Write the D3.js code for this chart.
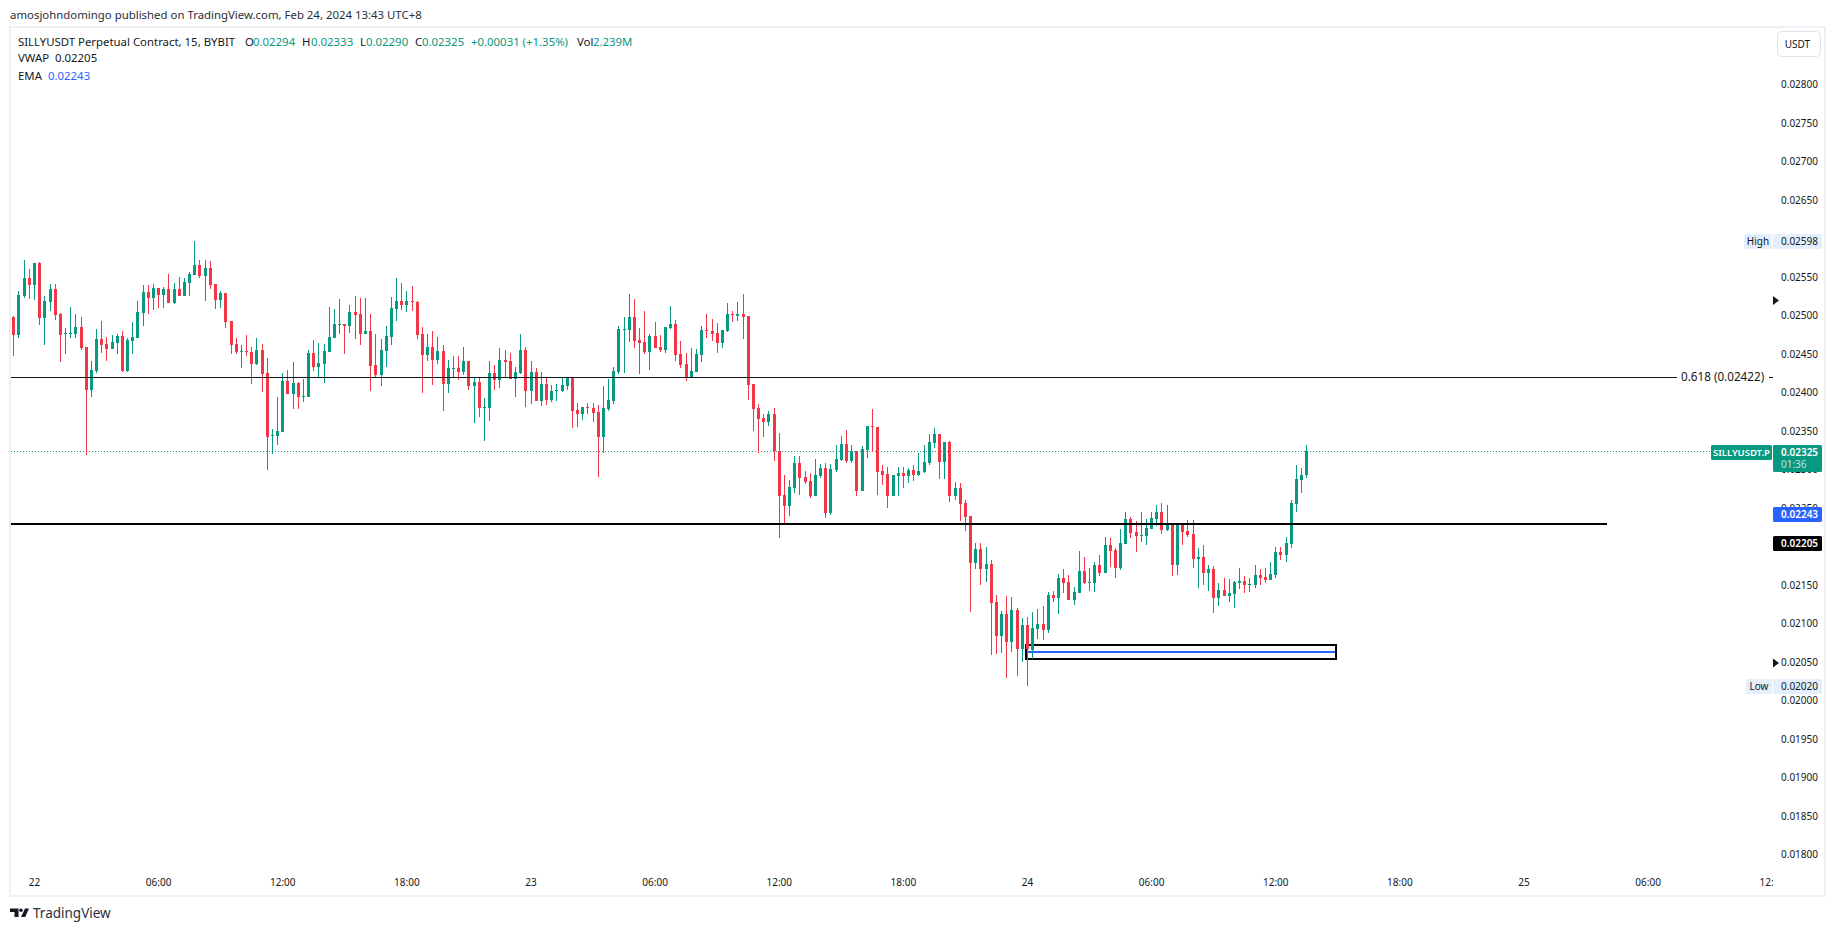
<!DOCTYPE html>
<html><head><meta charset="utf-8">
<script src="https://cdn.jsdelivr.net/npm/d3@7"></script>
<style>
html,body{margin:0;padding:0;background:#fff;overflow:hidden}
svg{display:block}
text{font-family:"Noto Sans",sans-serif;}
</style></head><body>
<script>
// All prices are in points: 1 point = 0.00001 USDT
const opens=[2499,2476,2527,2550,2541,2570,2498,2519,2536,2503,
2477,2477,2477,2487,2461,2405,2429,2471,2464,2458,
2466,2475,2429,2468,2472,2505,2532,2524,2537,2528,
2536,2518,2536,2527,2544,2554,2567,2553,2563,2542,
2522,2531,2494,2464,2454,2455,2454,2438,2457,2427,
2345,2345,2350,2416,2400,2414,2396,2396,2453,2435,
2438,2454,2472,2489,2490,2488,2506,2503,2477,2481,
2437,2424,2455,2473,2510,2520,2515,2520,2519,2477,
2450,2461,2444,2455,2412,2432,2433,2428,2442,2410,
2415,2381,2381,2427,2418,2444,2442,2419,2427,2457,
2403,2428,2390,2412,2392,2403,2403,2410,2420,2379,
2373,2383,2381,2376,2344,2380,2390,2428,2483,2483,
2499,2470,2467,2454,2475,2461,2457,2485,2490,2451,
2438,2422,2428,2450,2483,2481,2479,2466,2481,2503,
2501,2503,2501,2412,2381,2368,2363,2374,2325,2268,
2254,2277,2310,2292,2287,2267,2293,2303,2245,2301,
2314,2335,2312,2325,2274,2327,2358,2357,2300,2296,
2267,2293,2297,2293,2301,2294,2298,2310,2336,2348,
2311,2337,2267,2277,2258,2241,2180,2198,2172,2179,
2129,2085,2114,2077,2119,2068,2100,2067,2094,2101,
2093,2138,2135,2160,2155,2132,2141,2170,2154,2154,
2177,2167,2203,2197,2173,2205,2237,2220,2215,2215,
2224,2237,2246,2223,2229,2177,2229,2222,2218,2185,
2188,2167,2172,2134,2145,2137,2140,2154,2157,2151,
2151,2164,2162,2158,2164,2194,2190,2205,2257,2288,2294];
const closes=[2476,2528,2550,2541,2570,2498,2520,2536,2502,2476,
2479,2479,2487,2459,2405,2431,2471,2463,2458,2467,
2475,2429,2470,2473,2506,2532,2524,2537,2528,2536,
2518,2536,2527,2545,2555,2567,2553,2563,2541,2522,
2531,2493,2463,2454,2455,2454,2438,2457,2426,2344,
2346,2351,2416,2400,2414,2396,2397,2453,2435,2440,
2455,2473,2490,2490,2488,2506,2502,2477,2481,2436,
2424,2457,2475,2511,2520,2515,2520,2519,2476,2450,
2461,2444,2455,2412,2433,2433,2428,2442,2410,2415,
2381,2383,2427,2418,2444,2441,2419,2428,2457,2403,
2428,2390,2412,2392,2403,2405,2411,2420,2377,2373,
2383,2381,2375,2344,2381,2392,2429,2484,2484,2499,
2468,2466,2454,2475,2459,2457,2486,2490,2450,2437,
2422,2429,2451,2483,2481,2477,2466,2483,2503,2502,
2503,2499,2411,2380,2367,2363,2374,2325,2267,2254,
2279,2310,2290,2285,2267,2294,2303,2245,2302,2315,
2335,2312,2325,2274,2328,2358,2357,2298,2294,2267,
2294,2297,2293,2301,2294,2300,2311,2337,2348,2311,
2337,2267,2277,2257,2240,2180,2198,2172,2179,2128,
2085,2114,2077,2119,2068,2100,2068,2096,2101,2093,
2138,2135,2161,2154,2132,2142,2170,2154,2155,2177,
2167,2203,2196,2173,2206,2237,2219,2215,2216,2225,
2238,2246,2223,2229,2177,2229,2220,2216,2185,2188,
2167,2172,2134,2145,2137,2141,2155,2157,2151,2153,
2164,2160,2158,2166,2194,2190,2206,2258,2289,2294,2325];
const highs=[2501,2533,2574,2562,2570,2571,2527,2542,2542,2505,
2485,2512,2503,2499,2461,2442,2484,2494,2473,2476,
2477,2481,2472,2493,2520,2541,2541,2542,2537,2538,
2555,2544,2551,2550,2558,2598,2574,2574,2572,2542,
2533,2531,2494,2472,2463,2476,2461,2472,2464,2446,
2354,2396,2427,2431,2441,2415,2419,2457,2470,2466,
2464,2512,2510,2523,2490,2515,2527,2524,2524,2503,
2477,2471,2488,2525,2550,2544,2533,2540,2520,2486,
2477,2481,2473,2463,2444,2449,2449,2461,2442,2420,
2420,2394,2442,2437,2459,2457,2453,2435,2477,2461,
2442,2433,2428,2420,2411,2412,2420,2420,2420,2388,
2383,2388,2388,2385,2410,2419,2435,2488,2499,2529,
2523,2485,2507,2477,2493,2476,2486,2514,2496,2468,
2453,2459,2458,2488,2503,2497,2492,2483,2518,2507,
2519,2529,2501,2412,2386,2374,2377,2381,2349,2294,
2288,2319,2319,2299,2297,2315,2309,2310,2309,2333,
2345,2353,2333,2325,2332,2358,2380,2357,2307,2305,
2294,2305,2305,2303,2307,2323,2333,2348,2355,2348,
2337,2338,2285,2284,2262,2241,2206,2206,2201,2184,
2138,2118,2137,2136,2122,2109,2110,2116,2120,2124,
2142,2144,2166,2172,2164,2149,2196,2188,2173,2181,
2190,2214,2212,2199,2224,2246,2240,2235,2246,2237,
2246,2255,2258,2255,2231,2231,2232,2236,2236,2199,
2203,2177,2176,2154,2160,2159,2157,2173,2163,2160,
2177,2172,2173,2181,2201,2201,2214,2262,2307,2303,2333];
const lows=[2449,2472,2524,2523,2522,2489,2463,2507,2496,2441,
2451,2472,2472,2457,2320,2396,2427,2453,2442,2458,
2451,2428,2428,2451,2472,2488,2503,2509,2511,2511,
2518,2516,2527,2527,2527,2554,2550,2520,2536,2510,
2511,2485,2451,2451,2433,2449,2413,2437,2402,2301,
2322,2333,2350,2400,2380,2380,2389,2396,2429,2422,
2414,2454,2472,2477,2451,2479,2471,2463,2477,2403,
2422,2410,2435,2463,2494,2509,2506,2507,2471,2401,
2442,2411,2438,2377,2401,2420,2418,2424,2405,2362,
2370,2338,2364,2405,2407,2420,2419,2396,2425,2383,
2386,2390,2384,2385,2389,2390,2402,2405,2355,2357,
2366,2373,2363,2292,2323,2377,2386,2425,2427,2467,
2459,2425,2451,2431,2459,2454,2453,2484,2442,2433,
2416,2422,2428,2441,2472,2468,2453,2459,2480,2493,
2494,2471,2392,2351,2323,2344,2358,2312,2212,2229,
2241,2271,2268,2283,2264,2267,2290,2238,2242,2298,
2312,2310,2310,2267,2274,2316,2324,2268,2281,2251,
2267,2267,2277,2284,2287,2293,2297,2307,2329,2289,
2289,2259,2262,2235,2222,2116,2172,2151,2155,2061,
2062,2063,2031,2064,2033,2051,2020,2055,2081,2080,
2089,2129,2114,2141,2132,2125,2141,2153,2144,2142,
2163,2167,2175,2160,2171,2205,2212,2194,2207,2203,
2224,2228,2218,2222,2163,2164,2203,2214,2173,2147,
2151,2144,2115,2124,2137,2129,2122,2146,2141,2142,
2147,2151,2154,2158,2160,2184,2181,2199,2246,2271,2290];

const priceTicks=[1800,1850,1900,1950,2000,2050,2100,2150,2200,2250,2300,2350,2400,2450,2500,2550,2600,2650,2700,2750,2800];
const timeTickIndex=[4,28,52,76,100,124,148,172,196,220,244,268,292,316,340];
const timeTickLabels=["22","06:00","12:00","18:00","23","06:00","12:00","18:00","24","06:00","12:00","18:00","25","06:00","12:00"];

const fibPrice=2422, fibLabel="0.618 (0.02422)";
const supportPrice=2231;
const lastPrice=2325, emaPrice=2243, vwapPrice=2205, highPrice=2598, lowPrice=2020;
const boxTop=2074, boxBottom=2055, boxMid=2065;
const boxFrom=195.8, boxTo=255.8;
const markerPrices=[2521,2050];

const GREEN="#089981", RED="#f23645", BLUE="#2962ff", INK="#131722", BORDER="#eef0f5";
const W=1835,H=931;
const pane={l:11,t:27,r:1773,b:895};

const x=d3.scaleLinear().domain([0,250]).range([13.3,1306.3]);
const y=d3.scaleLinear().domain([1800,2800]).range([855.6,85.6]);
const fmt=v=>(v/1e5).toFixed(5);
const px=v=>Math.round(v);

const svg=d3.select("body").append("svg").attr("width",W).attr("height",H);
svg.append("rect").attr("width",W).attr("height",H).attr("fill","#fff");

// frame
svg.append("rect").attr("x",10).attr("y",27).attr("width",1815).attr("height",869)
  .attr("fill","none").attr("stroke",BORDER).attr("stroke-width",2);

svg.append("defs").append("clipPath").attr("id","timeClip").append("rect")
  .attr("x",pane.l).attr("y",pane.b-30).attr("width",pane.r-pane.l).attr("height",30);

// header
svg.append("text").attr("x",10).attr("y",19).attr("font-size",11.4).attr("fill","#2a2e39")
  .text("amosjohndomingo published on TradingView.com, Feb 24, 2024 13:43 UTC+8");

// legend
const legendParts=[
 ["SILLYUSDT Perpetual Contract, 15, BYBIT",18,46,INK],
 ["O",245,46,INK],["0.02294",253,46,GREEN],
 ["H",302,46,INK],["0.02333",311,46,GREEN],
 ["L",360,46,INK],["0.02290",366,46,GREEN],
 ["C",415,46,INK],["0.02325",422,46,GREEN],
 ["+0.00031 (+1.35%)",471,46,GREEN],
 ["Vol",577,46,INK],["2.239M",593,46,GREEN],
 ["VWAP",18,62,INK],["0.02205",55,62,INK],
 ["EMA",18,80,INK],["0.02243",48,80,BLUE]];
svg.append("g").attr("font-size",11.4).selectAll("text").data(legendParts).join("text")
  .attr("x",d=>d[1]).attr("y",d=>d[2]).attr("fill",d=>d[3]).text(d=>d[0]);

// box beneath candles
const boxG=svg.append("g");
boxG.append("rect").attr("x",x(boxFrom)).attr("y",y(boxTop)).attr("width",x(boxTo)-x(boxFrom)).attr("height",y(boxBottom)-y(boxTop))
  .attr("fill","none").attr("stroke","#000").attr("stroke-width",2).attr("shape-rendering","crispEdges");
boxG.append("line").attr("x1",x(boxFrom)+1).attr("x2",x(boxTo)-1).attr("y1",y(boxMid)).attr("y2",y(boxMid))
  .attr("stroke",BLUE).attr("stroke-width",2).attr("shape-rendering","crispEdges");

// last-price line
svg.append("line").attr("x1",pane.l).attr("x2",1710).attr("y1",px(y(lastPrice))+.5).attr("y2",px(y(lastPrice))+.5)
  .attr("stroke",GREEN).attr("stroke-width",1).attr("stroke-dasharray","1 2");

// candles
const candles=opens.map((o,i)=>({i,o,c:closes[i],h:highs[i],l:lows[i]}));
const cg=svg.append("g").attr("shape-rendering","crispEdges");
const sel=cg.selectAll("g").data(candles).join("g").attr("fill",d=>d.c>=d.o?GREEN:RED);
sel.append("rect").attr("x",d=>px(x(d.i))).attr("width",1)
  .attr("y",d=>px(y(d.h))).attr("height",d=>Math.max(1,px(y(d.l))-px(y(d.h))));
sel.append("rect").attr("x",d=>px(x(d.i))-1).attr("width",3)
  .attr("y",d=>px(y(Math.max(d.o,d.c))))
  .attr("height",d=>Math.max(1,px(y(Math.min(d.o,d.c)))-px(y(Math.max(d.o,d.c)))));

// horizontal lines over candles
const fy=px(y(fibPrice))+.5;
svg.append("line").attr("x1",pane.l).attr("x2",1677).attr("y1",fy).attr("y2",fy).attr("stroke",INK);
svg.append("line").attr("x1",1769).attr("x2",1773).attr("y1",fy).attr("y2",fy).attr("stroke",INK);
svg.append("text").attr("x",1681).attr("y",y(fibPrice)+4).attr("font-size",11.7).attr("fill",INK).text(fibLabel);
svg.append("line").attr("x1",pane.l).attr("x2",1607).attr("y1",y(supportPrice)).attr("y2",y(supportPrice))
  .attr("stroke","#000").attr("stroke-width",2).attr("shape-rendering","crispEdges");

// price axis
const yAxis=d3.axisRight(y).tickValues(priceTicks).tickFormat(fmt).tickSize(0).tickPadding(0);
const yg=svg.append("g").attr("transform","translate(1781,0)").call(yAxis);
yg.select(".domain").remove();
yg.selectAll("text").attr("font-family",'"Noto Sans",sans-serif').attr("font-size",10).attr("fill",INK).attr("dy","0.22em");

// time axis
const xAxis=d3.axisBottom(x).tickValues(timeTickIndex).tickFormat((d,i)=>timeTickLabels[i]).tickSize(0).tickPadding(0);
const xg=svg.append("g").attr("clip-path","url(#timeClip)").append("g").attr("transform","translate(0,879)").call(xAxis);
xg.select(".domain").remove();
xg.selectAll("text").attr("font-family",'"Noto Sans",sans-serif').attr("font-size",10).attr("fill",INK);

// USDT button
svg.append("rect").attr("x",1777.5).attr("y",31.5).attr("width",43).attr("height",25).attr("rx",4)
  .attr("fill","#fff").attr("stroke","#e0e3eb");
svg.append("text").attr("x",1797.5).attr("y",48).attr("text-anchor","middle").attr("font-size",10).attr("fill",INK).text("USDT");

// axis tags
const valueTags=[
 {p:highPrice,fill:"#e3effd",col:INK,w:400,side:"High",sideX:1744},
 {p:lowPrice,fill:"#e3effd",col:INK,w:400,side:"Low",sideX:1746},
 {p:emaPrice,fill:BLUE,col:"#fff",w:600},
 {p:vwapPrice,fill:"#000",col:"#fff",w:600}];
const tg=svg.append("g");
valueTags.forEach(t=>{
  const cy=Math.floor(y(t.p));
  tg.append("rect").attr("x",1773).attr("y",cy-7).attr("width",49).attr("height",15).attr("rx",1.5).attr("fill",t.fill);
  tg.append("text").attr("x",1781).attr("y",cy+4).attr("font-size",10).attr("font-weight",t.w).attr("fill",t.col).text(fmt(t.p));
  if(t.side){
    tg.append("rect").attr("x",t.sideX).attr("y",cy-7).attr("width",1772-t.sideX).attr("height",15).attr("rx",1.5).attr("fill",t.fill);
    tg.append("text").attr("x",(t.sideX+1772)/2).attr("y",cy+4).attr("text-anchor","middle").attr("font-size",10).attr("fill",t.col).text(t.side);
  }
});
// last price tag
const ly=Math.floor(y(lastPrice));
tg.append("rect").attr("x",1711).attr("y",ly-6).attr("width",61).attr("height",15).attr("rx",1.5).attr("fill",GREEN);
tg.append("text").attr("x",1741.5).attr("y",ly+5).attr("text-anchor","middle").attr("font-size",9.5).attr("font-weight",600).attr("fill","#fff").text("SILLYUSDT.P");
tg.append("rect").attr("x",1773).attr("y",ly-6).attr("width",49).attr("height",27).attr("rx",1.5).attr("fill",GREEN);
tg.append("text").attr("x",1781).attr("y",ly+5).attr("font-size",10).attr("font-weight",600).attr("fill","#fff").text(fmt(lastPrice));
tg.append("text").attr("x",1781).attr("y",ly+17).attr("font-size",10).attr("fill","#fff").attr("fill-opacity",.75).text("01:36");

// axis markers
svg.append("g").selectAll("path").data(markerPrices).join("path")
  .attr("fill",INK)
  .attr("d","M-3 -4.5L3 0L-3 4.5Z")
  .attr("transform",p=>`translate(1776,${y(p)})`);

// logo
const lgo=svg.append("g").attr("fill",INK);
lgo.append("path").attr("d","M10 908.5h8.5v8.5h-4v-5h-4.5z");
lgo.append("circle").attr("cx",21).attr("cy",910.3).attr("r",1.8);
lgo.append("path").attr("d","M25 908.5h4l-3.8 8.5h-4.2z");
svg.append("text").attr("x",33).attr("y",918).attr("font-family","Lato,sans-serif").attr("font-size",13.5).attr("fill","#2a2e39").text("TradingView");
</script>
</body></html>
